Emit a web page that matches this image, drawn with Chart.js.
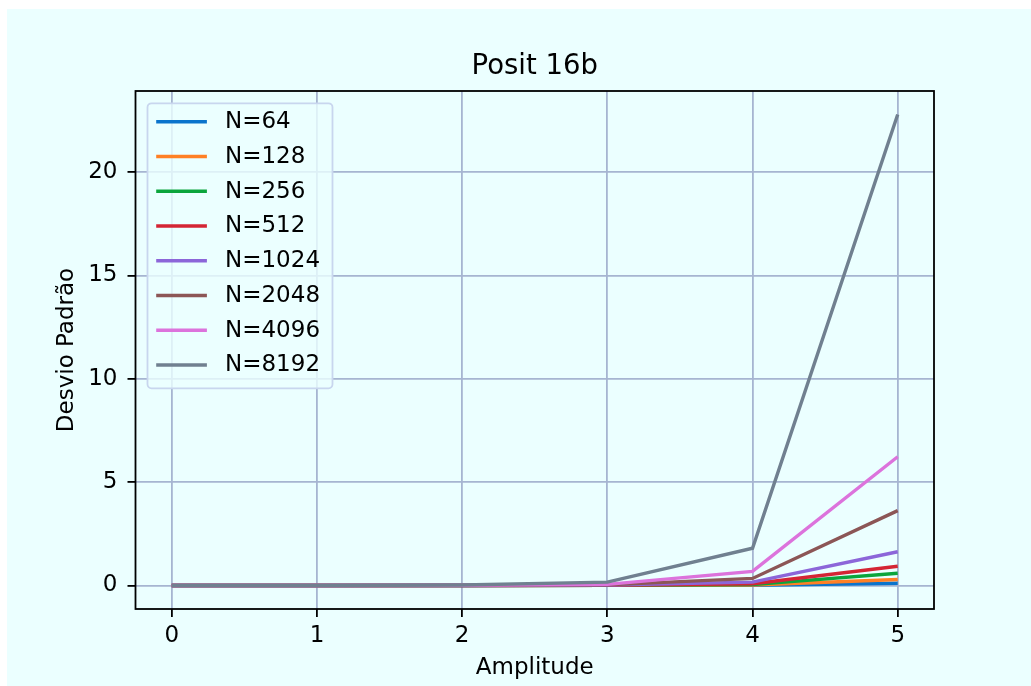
<!DOCTYPE html>
<html><head><meta charset="utf-8">
<script src="https://cdn.jsdelivr.net/npm/chart.js@4.4.0/dist/chart.umd.min.js"></script>
<style>html,body{margin:0;padding:0;background:#fff;overflow:hidden}canvas{display:block}</style>
</head><body>
<canvas id="c" width="1031" height="686"></canvas>
<script>
// ---- data ----
const amplitudes = [0, 1, 2, 3, 4, 5];
const seriesLabels = ['N=64', 'N=128', 'N=256', 'N=512', 'N=1024', 'N=2048', 'N=4096', 'N=8192'];
const n64   = [0, 0, 0,    0.01, 0.01, 0.11];
const n128  = [0, 0, 0,    0.01, 0.02, 0.29];
const n256  = [0, 0, 0,    0.01, 0.04, 0.59];
const n512  = [0, 0, 0,    0.01, 0.08, 0.93];
const n1024 = [0, 0, 0,    0.02, 0.16, 1.63];
const n2048 = [0, 0, 0.01, 0.03, 0.34, 3.62];
const n4096 = [0, 0, 0.01, 0.05, 0.68, 6.23];
const n8192 = [0, 0, 0.02, 0.16, 1.80, 22.79];
const seriesValues = [n64, n128, n256, n512, n1024, n2048, n4096, n8192];
const seriesColors = ['#0a74cc', '#ff8025', '#0ba53c', '#d42534', '#8c66d9', '#8c5656', '#dc73dc', '#708090'];
const xTickValues = [0, 1, 2, 3, 4, 5];
const yTickValues = [0, 5, 10, 15, 20];
const titleText = 'Posit 16b';
const xTitle = 'Amplitude';
const yTitle = 'Desvio Padrão';

// ---- styles ----
const FONT = 'DejaVu Sans';
const BG = '#ebffff';
const GRID = '#a6b5d1';
const LW = 3.4;

// matplotlib-like 5% autoscale margins
const xs = amplitudes, allY = seriesValues.flat();
const xMin = Math.min(...xs), xMax = Math.max(...xs);
const yMinD = Math.min(...allY), yMaxD = Math.max(...allY);
const xm = (xMax - xMin) * 0.05, ym = (yMaxD - yMinD) * 0.05;

const datasets = seriesValues.map((vals, i) => ({
  label: seriesLabels[i],
  data: amplitudes.map((x, j) => ({ x: x, y: vals[j] })),
  borderColor: seriesColors[i],
  backgroundColor: seriesColors[i],
  borderWidth: LW,
  pointRadius: 0,
  pointHoverRadius: 0,
  tension: 0,
  fill: false,
  order: seriesValues.length - i
}));

const bgPlugin = {
  id: 'bg',
  beforeDraw(chart) {
    const c = chart.ctx;
    c.save();
    c.fillStyle = '#ffffff';
    c.fillRect(0, 0, chart.width, chart.height);
    c.fillStyle = BG;
    c.fillRect(7, 9, chart.width - 7, chart.height - 9);
    c.restore();
  }
};

const frameLegendPlugin = {
  id: 'frameLegend',
  afterDatasetsDraw(chart) {
    const c = chart.ctx, ca = chart.chartArea;
    c.save();
    // frame
    c.strokeStyle = '#000';
    c.lineWidth = 1.8;
    c.strokeRect(ca.left, ca.top, ca.right - ca.left, ca.bottom - ca.top);
    // legend box
    const bx = ca.left + 12, by = ca.top + 12.3, bw = 185, bh = 285, r = 4;
    c.beginPath();
    c.roundRect(bx, by, bw, bh, r);
    c.fillStyle = 'rgba(235,255,255,0.8)';
    c.fill();
    c.strokeStyle = 'rgba(200,214,238,1)';
    c.lineWidth = 1.8;
    c.stroke();
    c.font = '23px "' + FONT + '"';
    c.textBaseline = 'middle';
    c.textAlign = 'left';
    chart.data.datasets.forEach((ds, i) => {
      const y = ca.top + 30.7 + i * 34.76;
      c.beginPath();
      c.moveTo(bx + 8.7, y);
      c.lineTo(bx + 59.4, y);
      c.strokeStyle = ds.borderColor;
      c.lineWidth = LW;
      c.lineCap = 'butt';
      c.stroke();
      c.fillStyle = '#000';
      c.fillText(ds.label, ca.left + 89.5, y + 0.5);
    });
    c.restore();
  }
};

new Chart(document.getElementById('c'), {
  type: 'line',
  data: { datasets },
  plugins: [bgPlugin, frameLegendPlugin],
  options: {
    responsive: false,
    devicePixelRatio: 1,
    animation: false,
    events: [],
    layout: { padding: { left: 0, right: 97, top: 0, bottom: 0 } },
    plugins: {
      legend: { display: false },
      tooltip: { enabled: false },
      title: {
        display: true,
        text: titleText,
        fullSize: false,
        color: '#000',
        font: { family: FONT, size: 27.5, weight: 'normal', lineHeight: 1.2 },
        padding: { top: 50.7, bottom: 7.3 }
      }
    },
    scales: {
      x: {
        type: 'linear',
        min: xMin - xm,
        max: xMax + xm,
        afterBuildTicks: s => { s.ticks = xTickValues.map(v => ({ value: v })); },
        afterFit: s => { s.height = 77; },
        grid: { color: GRID, lineWidth: 1.8, drawTicks: true, tickLength: 8, tickColor: '#000', tickWidth: 1.8 },
        border: { display: false },
        ticks: { color: '#000', padding: 5, font: { family: FONT, size: 23 }, maxRotation: 0 },
        title: { display: true, text: xTitle, color: '#000', font: { family: FONT, size: 23 }, padding: { top: 0, bottom: 4.2 } }
      },
      y: {
        type: 'linear',
        min: yMinD - ym,
        max: yMaxD + ym,
        afterBuildTicks: s => { s.ticks = yTickValues.map(v => ({ value: v })); },
        afterFit: s => { s.width = 135.5; },
        grid: { color: GRID, lineWidth: 1.8, drawTicks: true, tickLength: 8, tickColor: '#000', tickWidth: 1.8 },
        border: { display: false },
        ticks: { color: '#000', padding: 10, font: { family: FONT, size: 23 } },
        title: { display: true, text: yTitle, color: '#000', font: { family: FONT, size: 23 }, padding: { top: 53.2, bottom: 0 } }
      }
    }
  }
});
</script>
</body></html>
